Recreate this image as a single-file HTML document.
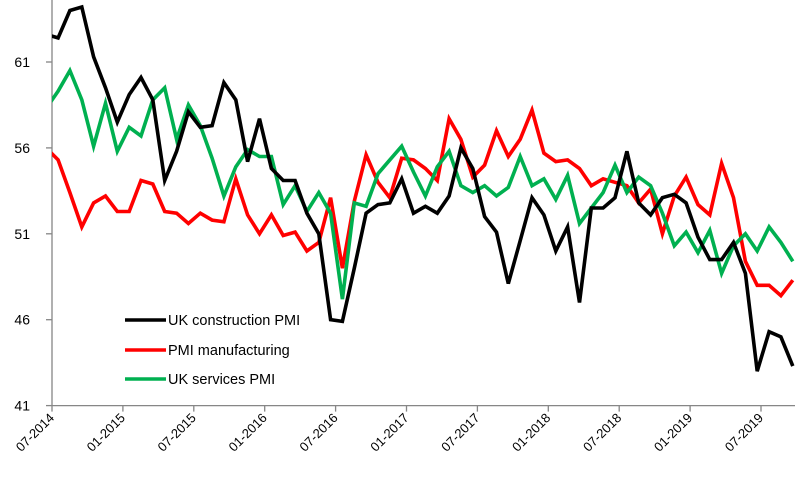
<!DOCTYPE html>
<html><head><meta charset="utf-8"><style>
html,body{margin:0;padding:0;background:#fff;}
svg{display:block;font-family:"Liberation Sans",sans-serif;}
</style></head><body>
<svg id="chart" width="795" height="481" viewBox="0 0 795 481" xmlns="http://www.w3.org/2000/svg"></svg>
<script>
const yTicks = [41, 46, 51, 56, 61];
const xTickLabels = ["07-2014","01-2015","07-2015","01-2016","07-2016","01-2017","07-2017","01-2018","07-2018","01-2019","07-2019"];
const construction = [62.6,62.4,64.0,64.2,61.3,59.5,57.5,59.1,60.1,58.8,54.1,55.8,58.1,57.2,57.3,59.8,58.8,55.2,57.7,54.8,54.1,54.1,52.2,51.0,46.0,45.9,49.0,52.2,52.7,52.8,54.2,52.2,52.6,52.2,53.2,56.0,54.8,52.0,51.1,48.1,50.6,53.1,52.1,50.0,51.4,47.0,52.5,52.5,53.1,55.8,52.8,52.1,53.1,53.3,52.8,50.8,49.5,49.5,50.5,48.7,43.0,45.3,45.0,43.3];
const manufacturing = [56.0,55.3,53.4,51.4,52.8,53.2,52.3,52.3,54.1,53.9,52.3,52.2,51.6,52.2,51.8,51.7,54.2,52.1,51.0,52.1,50.9,51.1,50.0,50.5,53.1,49.0,52.9,55.6,54.0,53.1,55.4,55.3,54.8,54.1,57.7,56.5,54.3,55.0,57.0,55.5,56.5,58.2,55.7,55.2,55.3,54.8,53.8,54.2,54.0,53.8,52.8,53.6,51.0,53.2,54.3,52.7,52.1,55.1,53.1,49.4,48.0,48.0,47.4,48.3];
const services = [58.3,59.3,60.5,58.8,56.1,58.6,55.8,57.2,56.7,58.8,59.5,56.5,58.5,57.3,55.4,53.2,54.9,55.9,55.5,55.5,52.7,53.8,52.3,53.4,52.2,47.2,52.8,52.6,54.5,55.3,56.1,54.6,53.2,54.9,55.8,53.8,53.4,53.8,53.2,53.7,55.5,53.8,54.2,53.0,54.4,51.6,52.5,53.4,55.0,53.4,54.3,53.8,52.2,50.3,51.1,49.9,51.2,48.7,50.3,51.0,50.0,51.4,50.5,49.4];
const seriesNames = ["UK construction PMI","PMI manufacturing","UK services PMI"];

const NS = "http://www.w3.org/2000/svg";
const svg = document.getElementById("chart");
const X0 = 52, X1 = 795, Y41 = 405.6, PPU = 17.18;
function yPos(v){ return Y41 - (v - 41) * PPU; }
function xPos(i){ return 46.2 + 11.85 * i; }
function xTick(j){ return 52 + 70.9 * j; }
function mk(tag, attrs){ const e = document.createElementNS(NS, tag); for (const k in attrs) e.setAttribute(k, attrs[k]); svg.appendChild(e); return e; }

const defs = document.createElementNS(NS, "defs");
defs.innerHTML = '<clipPath id="plotclip"><rect x="52" y="0" width="743" height="406"/></clipPath>';
svg.appendChild(defs);

// axes
const ya = mk("line", {x1:X0, y1:0, x2:X0, y2:Y41, stroke:"#868686", "stroke-width":1.3});


const xa = mk("line", {x1:X0, y1:Y41, x2:X1, y2:Y41, stroke:"#868686", "stroke-width":1.3});



yTicks.forEach(v => {
  const y = yPos(v);
  const t = mk("line", {x1:46, y1:y, x2:X0, y2:y, stroke:"#868686", "stroke-width":1.3});
  
  
  const l = mk("text", {x:30, y:y+5, "text-anchor":"end", "font-size":14, fill:"#000"});
  l.textContent = v;
  
  
});

xTickLabels.forEach((s, j) => {
  const x = xTick(j);
  const t = mk("line", {x1:x, y1:Y41, x2:x, y2:Y41+6, stroke:"#868686", "stroke-width":1.3});
  
  
  const l = mk("text", {x:x+3, y:Y41+13, "text-anchor":"end", "font-size":13, fill:"#000", transform:"rotate(-45 "+(x+3)+" "+(Y41+13)+")"});
  l.textContent = s;
  
  
});

function drawSeries(vals, color, name){
  const pts = vals.map((v,i) => xPos(i).toFixed(1)+","+yPos(v).toFixed(1)).join(" ");
  const p = mk("polyline", {points:pts, fill:"none", stroke:color, "stroke-width":3.6, "stroke-linejoin":"miter", "clip-path":"url(#plotclip)"});
  
  
}
drawSeries(manufacturing, "#ff0000", "manufacturing-line");
drawSeries(services, "#00b050", "services-line");
drawSeries(construction, "#000000", "construction-line");

// legend
const legColors = ["#000000", "#ff0000", "#00b050"];
const legY = [320, 350, 379];
seriesNames.forEach((n, i) => {
  const ln = mk("line", {x1:125, y1:legY[i], x2:166, y2:legY[i], stroke:legColors[i], "stroke-width":3.6});
  
  
  const tx = mk("text", {x:168, y:legY[i]+5, "font-size":14.5, fill:"#000"});
  tx.textContent = n;
  
  
});
</script>
</body></html>
